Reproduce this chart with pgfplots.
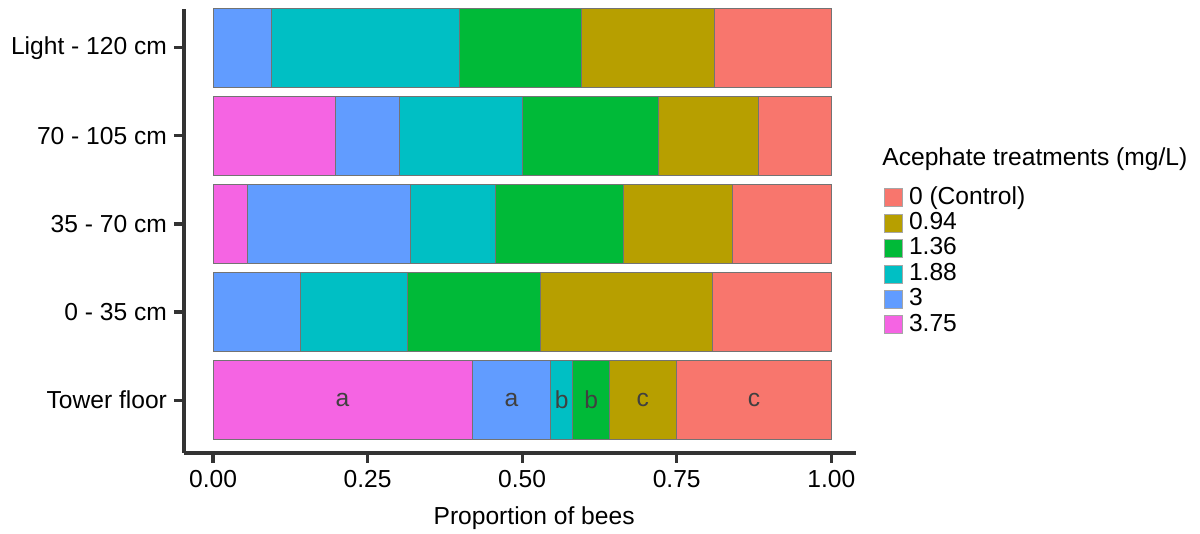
\documentclass[border=0pt]{standalone}
\usepackage{pgfplots}
\pgfplotsset{compat=1.18}
\usepackage{fontspec}
\setmainfont{Liberation Sans}
\definecolor{cA}{HTML}{F8766D}
\definecolor{cB}{HTML}{B79F00}
\definecolor{cC}{HTML}{00BA38}
\definecolor{cD}{HTML}{00BFC4}
\definecolor{cE}{HTML}{619CFF}
\definecolor{cF}{HTML}{F564E3}
\definecolor{axc}{HTML}{333333}
\begin{document}
\begin{tikzpicture}[font=\fontsize{12.3}{14}\selectfont]
\begin{axis}[
  at={(0,0)}, anchor=south west,
  scale only axis, width=336pt, height=222pt,
  clip=false,
  xbar stacked, bar width=0.9,
  xmin=-0.047, xmax=1.04, ymin=0.4, ymax=5.44,
  ytick={1,2,3,4,5},
  yticklabels={Tower floor,0 - 35 cm,35 - 70 cm,70 - 105 cm,Light - 120 cm},
  xtick={0,0.25,0.5,0.75,1},
  xticklabels={0.00,0.25,0.50,0.75,1.00},
  axis lines=left,
  axis line style={-, line width=1.6pt, color=axc},
  tick style={line width=1.6pt, color=axc},
  tick align=outside, major tick length=5pt,
  xlabel={Proportion of bees},
  xlabel style={at={(axis description cs:0.521,-0.146)}, anchor=center},
  every axis plot/.append style={draw=black!55, line width=0.4pt},
  reverse legend,
  legend image code/.code={\draw[#1, draw=black!35, line width=0.3pt] (0pt,-4.5pt) rectangle (9pt,4.5pt);},
  legend style={at={(rel axis cs:1.0328,0.6135)}, anchor=north west, draw=none, fill=none,
    cells={anchor=west}, column sep=2.5pt,
    nodes={inner sep=0.5pt, text height=9pt, text depth=2.7pt}},
  after end axis/.code={
    \node[text=black!75] at (axis cs:0.2095,1) {a};
    \node[text=black!75] at (axis cs:0.4825,1) {a};
    \node[text=black!75] at (axis cs:0.564,1) {b};
    \node[text=black!75] at (axis cs:0.6115,1) {b};
    \node[text=black!75] at (axis cs:0.695,1) {c};
    \node[text=black!75] at (axis cs:0.875,1) {c};
    \node[anchor=west, inner sep=0pt] at (rel axis cs:1.0387,0.662) {Acephate treatments (mg/L)};
  },
]
% order left to right: 3.75, 3, 1.88, 1.36, 0.94, 0 (Control)
\addplot[fill=cF] coordinates {(0.419,1) (0,2) (0.056,3) (0.198,4) (0,5)};
\addplot[fill=cE] coordinates {(0.127,1) (0.142,2) (0.264,3) (0.103,4) (0.095,5)};
\addplot[fill=cD] coordinates {(0.036,1) (0.172,2) (0.136,3) (0.200,4) (0.304,5)};
\addplot[fill=cC] coordinates {(0.059,1) (0.215,2) (0.207,3) (0.219,4) (0.197,5)};
\addplot[fill=cB] coordinates {(0.109,1) (0.278,2) (0.177,3) (0.162,4) (0.215,5)};
\addplot[fill=cA] coordinates {(0.250,1) (0.193,2) (0.160,3) (0.118,4) (0.189,5)};
\legend{3.75,3,1.88,1.36,0.94,0 (Control)}
\end{axis}
\pgfresetboundingbox
\path (-92pt,-40.5pt) rectangle (508pt,226.5pt);
\end{tikzpicture}
\end{document}
